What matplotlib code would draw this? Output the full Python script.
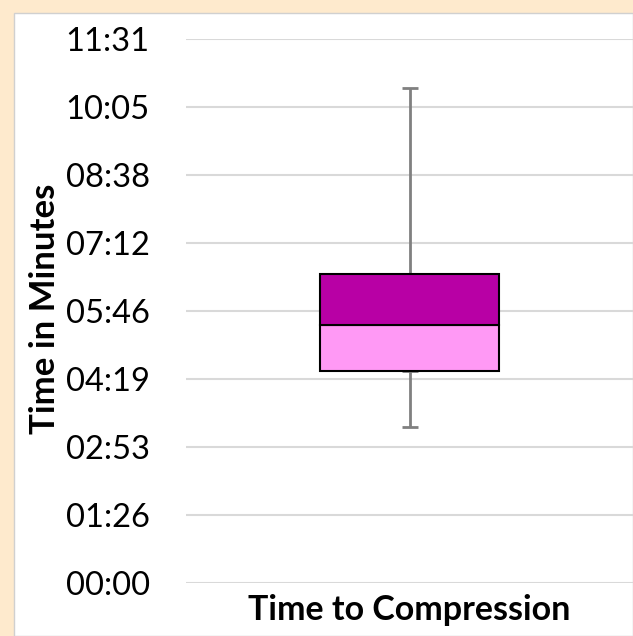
import matplotlib
matplotlib.use("Agg")
import matplotlib.pyplot as plt
from matplotlib.patches import Rectangle
from matplotlib.ticker import FixedLocator, FuncFormatter

# Data (seconds)
category = ["Time to Compression"]
whisker_min = [198]
q1 = [269]
median = [328]
q3 = [392]
whisker_max = [629]
tick_step = 86.4  # 0.001 day
n_ticks = 9

W, H = 633, 636
fig = plt.figure(figsize=(W / 100, H / 100), dpi=100)
fig.patch.set_facecolor("#FEEACD")
bg = Rectangle((14 / W, 0), 1 - 14 / W, 1 - 13 / H, transform=fig.transFigure,
               facecolor="white", edgecolor="#D0D0D0", linewidth=1, zorder=-10)
fig.add_artist(bg)

ax = fig.add_axes([186 / W, 1 - 582.7 / H, 1 - 186 / W, (582.7 - 39) / H])
ax.set_zorder(1)
ax.set_facecolor("none")
x = range(len(category))
width = 0.4
lower = [m - a for m, a in zip(median, q1)]
upper = [b - m for b, m in zip(q3, median)]
ax.bar(x, lower, width, bottom=q1, color="#FF99F5", edgecolor="black", linewidth=1.5, zorder=3)
ax.bar(x, upper, width, bottom=median, color="#B800A5", edgecolor="black", linewidth=1.5, zorder=3)
# whiskers
ax.errorbar(x, q3, yerr=[[0] * len(x), [b - a for b, a in zip(whisker_max, q3)]], fmt="none",
            ecolor="#808080", elinewidth=2, capsize=6, capthick=2, zorder=2)
ax.errorbar(x, q1, yerr=[[a - b for a, b in zip(q1, whisker_min)], [0] * len(x)], fmt="none",
            ecolor="#808080", elinewidth=2, capsize=6, capthick=2, zorder=2)

ax.set_xlim(-0.5, 0.5)
ax.set_ylim(0, tick_step * (n_ticks - 1))
ax.yaxis.set_major_locator(FixedLocator([tick_step * i for i in range(n_ticks)]))


def fmt(v, pos):
    s = int(round(v))
    return f"{s // 60:02d}:{s % 60:02d}"


ax.yaxis.set_major_formatter(FuncFormatter(fmt))
ax.set_xticks([])
ax.grid(axis="y", color="#D9D9D9", linewidth=1.5, zorder=0)
for s in ax.spines.values():
    s.set_visible(False)
ax.tick_params(axis="y", length=0, pad=26, labelsize=23.5)
for lab in ax.get_yticklabels():
    lab.set_fontfamily("Lato")
ax.set_xlabel(category[0], fontsize=24.5, fontweight="bold", fontfamily="Lato", labelpad=8)
fig.text(45 / W, 1 - 309 / H, "Time in Minutes", rotation=90, fontsize=25, fontweight="bold",
         fontfamily="Lato", ha="center", va="center", zorder=5)
fig.savefig("out.png", dpi=100, facecolor=fig.get_facecolor())
